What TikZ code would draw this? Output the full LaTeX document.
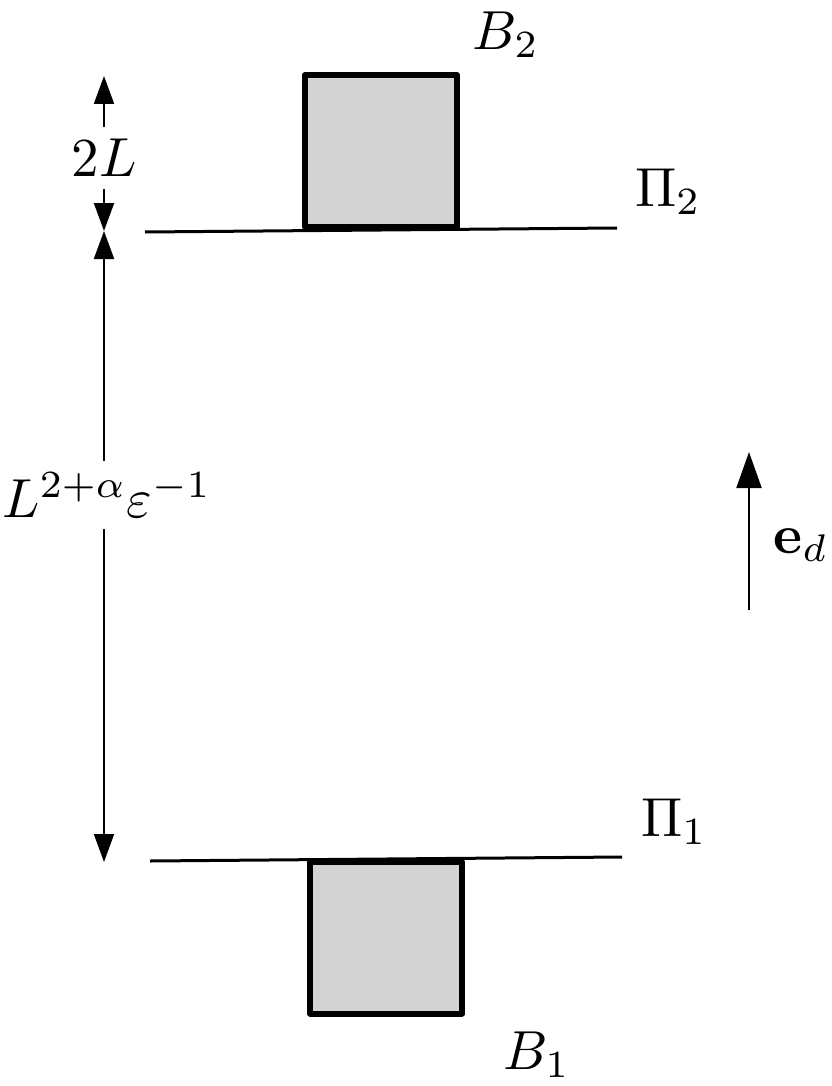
\documentclass[tikz,border=0pt]{standalone}
\usetikzlibrary{arrows.meta}
\definecolor{boxgray}{RGB}{211,211,211}
\begin{document}
\begin{tikzpicture}[x=1pt,y=-1pt,
  lbl/.style={scale=5.5,inner sep=2pt},
  block/.style={draw,line width=6pt,line join=round,fill=boxgray,minimum width=152pt,minimum height=152pt,inner sep=0pt},
  plane/.style={line width=3pt},
  dim/.style={line width=2pt,-{Triangle[length=28pt,width=20pt]}},
  vec/.style={line width=2pt,-{Triangle[length=36pt,width=25pt]}}]
\useasboundingbox (0,0) rectangle (831,1086);
% planes
\coordinate (p2l) at (145,232);
\coordinate (p2r) at (617,228);
\coordinate (p1l) at (150,861);
\coordinate (p1r) at (622,857);
\draw[plane] (p2l) -- (p2r);
\draw[plane] (p1l) -- (p1r);
% blocks
\node[block] (b2) at (381,151) {};
\node[block] (b1) at (386,937.5) {};
% labels
\node[lbl] (lb2) at (506,35) {$B_2$};
\node[lbl] (lb1) at (537,1055) {$B_1$};
\node[lbl] (pi2) at (668,192) {$\Pi_2$};
\node[lbl] (pi1) at (674,822) {$\Pi_1$};
% dimension arrows
\node[lbl] (twoL) at (104,158) {$2L$};
\node[lbl] (dist) at (107,495) {$L^{2+\alpha}\varepsilon^{-1}$};
\coordinate (top) at (104,76);
\coordinate (mid) at (104,231);
\coordinate (bot) at (104,862);
\draw[dim] (twoL.north) -- (top);
\draw[dim] (twoL.south) -- (mid);
\draw[dim] (dist.north -| mid) -- (mid);
\draw[dim] (dist.south -| mid) -- (bot);
% direction vector
\coordinate (ed1) at (749,610);
\coordinate (ed2) at (749,452);
\draw[vec] (ed1) -- (ed2);
\node[lbl] (edl) at (801,545) {$\mathbf{e}_d$};
\end{tikzpicture}
\end{document}
